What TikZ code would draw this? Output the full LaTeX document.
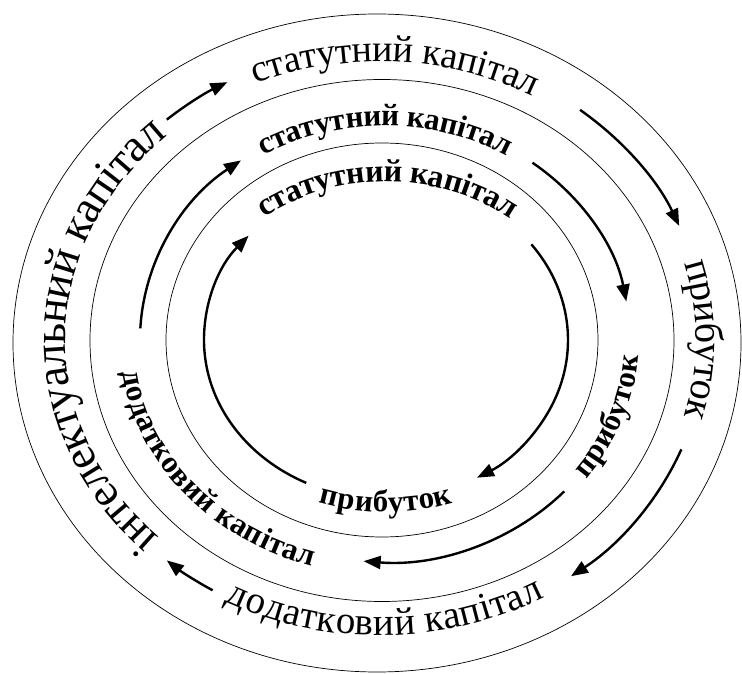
\documentclass[tikz,border=0pt]{standalone}
\usepackage{fontspec}
\setmainfont{Liberation Serif}
\usetikzlibrary{arrows.meta,decorations.text}
\tikzset{
  ringline/.style={draw=black, line width=0.7pt},
  cyclearrow/.style={-{Triangle[length=17pt, width=13pt]}, line width=2.4pt, draw=black},
  ringtext/.style 2 args={decorate, decoration={text along path, text align=center, raise=#1, text={#2}}},
}

\begin{document}
\begin{tikzpicture}[x=1pt, y=1pt]
    \useasboundingbox (0,0) rectangle (742,675);
    \coordinate (outerc) at (377,332);
    \coordinate (midc) at (382,334.5);
    \coordinate (innerc) at (382,335);
    \coordinate (oring) at (380,335);
    \coordinate (mring) at (385,335);
    \coordinate (iring) at (386,335);

    \draw[ringline] (outerc) ellipse [x radius=364, y radius=329];
    \draw[ringline] (midc) ellipse [x radius=292, y radius=261];
    \draw[ringline] (innerc) ellipse [x radius=216, y radius=197];

    \path[ringtext={-8.5pt}{|\fontsize{38}{42}\selectfont|статутний капітал}] (oring) ++(150:325 and 287) arc[start angle=150, end angle=24, x radius=325, y radius=287];
    \path[ringtext={-9pt}{|\fontsize{40}{44}\selectfont|прибуток}] (oring) ++(40:325 and 287) arc[start angle=40, end angle=-40, x radius=325, y radius=287];
    \path[ringtext={-8.5pt}{|\fontsize{39}{42}\selectfont|додатковий капітал}] (oring) ++(200:325 and 287) arc[start angle=200, end angle=342, x radius=325, y radius=287];
    \path[ringtext={-10.5pt}{|\fontsize{46}{50}\selectfont|інтелектуальний капітал}] (oring) ++(245:325 and 287) arc[start angle=245, end angle=113, x radius=325, y radius=287];

    \path[ringtext={-7pt}{|\bfseries\fontsize{31}{36}\selectfont|статутний капітал}] (mring) ++(150:247 and 221) arc[start angle=150, end angle=30, x radius=247, y radius=221];
    \path[ringtext={-7pt}{|\bfseries\fontsize{31}{36}\selectfont|прибуток}] (mring) ++(-60:247 and 221) arc[start angle=-60, end angle=20, x radius=247, y radius=221];
    \path[ringtext={-7pt}{|\bfseries\fontsize{31}{36}\selectfont|додатковий капітал}] (mring) ++(170:258 and 228) arc[start angle=170, end angle=270, x radius=258, y radius=228];

    \path[ringtext={-7pt}{|\bfseries\fontsize{32}{36}\selectfont|статутний капітал}] (iring) ++(140:200 and 165) arc[start angle=140, end angle=39, x radius=200, y radius=165];
    \path[ringtext={-7pt}{|\bfseries\fontsize{31}{36}\selectfont|прибуток}] (iring) ++(230:200 and 165) arc[start angle=230, end angle=310, x radius=200, y radius=165];

    \draw[cyclearrow] (oring) ++(131:325 and 292) arc[start angle=131, end angle=118, x radius=325, y radius=292];
    \draw[cyclearrow] (oring) ++(52:325 and 292) arc[start angle=52, end angle=23, x radius=325, y radius=292];
    \draw[cyclearrow] (oring) ++(-22:325 and 292) arc[start angle=-22, end angle=-54, x radius=325, y radius=292];
    \draw[cyclearrow] (oring) ++(239:325 and 292) arc[start angle=239, end angle=229, x radius=325, y radius=292];

    \draw[cyclearrow] (mring) ++(177:245 and 222) arc[start angle=177, end angle=126, x radius=245, y radius=222];
    \draw[cyclearrow] (mring) ++(53:245 and 222) arc[start angle=53, end angle=10, x radius=245, y radius=222];
    \draw[cyclearrow] (mring) ++(-43:245 and 222) arc[start angle=-43, end angle=-95, x radius=245, y radius=222];

    \draw[cyclearrow] (iring) ++(244:182 and 159) arc[start angle=244, end angle=139, x radius=182, y radius=159];
    \draw[cyclearrow] (iring) ++(37:182 and 159) arc[start angle=37, end angle=-60, x radius=182, y radius=159];
\end{tikzpicture}
\end{document}
